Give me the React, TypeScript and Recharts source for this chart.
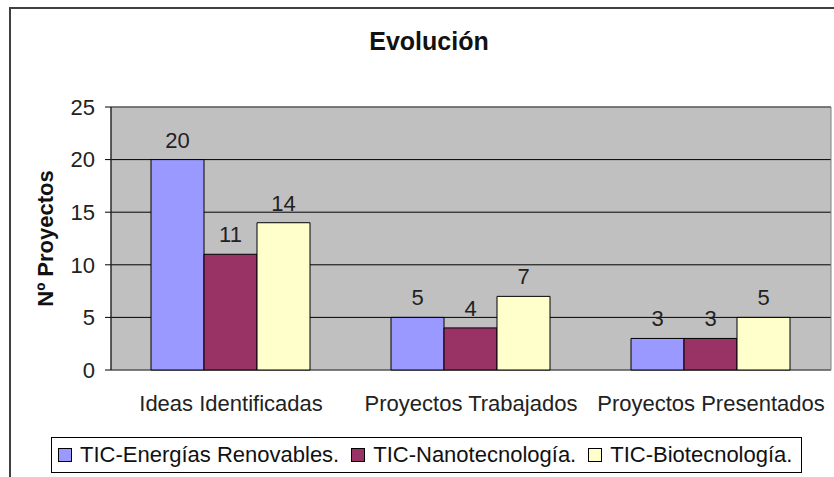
import React from "react";
import {
  BarChart,
  Bar,
  XAxis,
  YAxis,
  CartesianGrid,
  ReferenceArea,
  LabelList,
} from "recharts";

const categories = ["Ideas Identificadas", "Proyectos Trabajados", "Proyectos Presentados"];
const seriesNames = ["TIC-Energías Renovables.", "TIC-Nanotecnología.", "TIC-Biotecnología."];
const energias = [20, 5, 3];
const nano = [11, 4, 3];
const bio = [14, 7, 5];
const yTicks = [0, 5, 10, 15, 20, 25];
const colors = ["#9999ff", "#993366", "#ffffcc"];
const title = "Evolución";
const yLabel = "Nº Proyectos";

const data = categories.map((c, i) => ({ name: c, s0: energias[i], s1: nano[i], s2: bio[i] }));
const edgeTicks = [...categories.map((_, i) => i), categories.length];

const FONT = "'Liberation Sans', Arial, sans-serif";

export default function App() {
  return (
    <div
      style={{
        position: "absolute",
        left: 0,
        top: 0,
        width: 834,
        height: 477,
        overflow: "hidden",
        background: "#fff",
        fontFamily: FONT,
      }}
    >
      <div
        style={{
          position: "absolute",
          left: 9,
          top: 7,
          width: 1000,
          height: 1000,
          border: "2px solid #404040",
        }}
      />
      <div
        style={{
          position: "absolute",
          left: 429,
          top: 29,
          transform: "translateX(-50%)",
          fontSize: 25,
          lineHeight: "25px",
          fontWeight: "bold",
          color: "#111",
          whiteSpace: "nowrap",
        }}
      >
        {title}
      </div>
      <div style={{ position: "absolute", left: 0, top: 0 }}>
        <BarChart
          width={834}
          height={477}
          data={data}
          margin={{ top: 107, right: 3, left: 11, bottom: 67 }}
          barCategoryGap="16.667%"
          barGap={0}
          style={{ fontFamily: FONT }}
        >
          <CartesianGrid vertical={false} stroke="#000" strokeWidth={1} fill="#c0c0c0" fillOpacity={1} />
          <ReferenceArea y1={0} y2={25} fill="none" stroke="#808080" strokeWidth={1} ifOverflow="visible" />
          <XAxis
            xAxisId="edge"
            type="number"
            domain={[0, categories.length]}
            ticks={edgeTicks}
            allowDataOverflow
            height={0}
            tick={false}
            tickSize={7}
            axisLine={{ stroke: "#000", strokeWidth: 1 }}
            tickLine={{ stroke: "#000", strokeWidth: 1 }}
          />
          <XAxis
            xAxisId="cat"
            dataKey="name"
            height={40}
            axisLine={false}
            tickLine={false}
            tickSize={0}
            tickMargin={25}
            interval={0}
            tick={{ fontSize: 22, fill: "#222", fontFamily: FONT }}
          />
          <YAxis
            width={100}
            domain={[0, 25]}
            ticks={yTicks}
            interval={0}
            tickSize={6}
            tickMargin={10}
            axisLine={{ stroke: "#000", strokeWidth: 1 }}
            tickLine={{ stroke: "#000", strokeWidth: 1 }}
            tick={{ fontSize: 22, fill: "#222", fontFamily: FONT }}
            label={{
              value: yLabel,
              angle: -90,
              position: "insideLeft",
              offset: 34,
              style: { textAnchor: "middle", fontSize: 22, fontWeight: "bold", fill: "#111", fontFamily: FONT },
            }}
          />
          {["s0", "s1", "s2"].map((k, i) => (
            <Bar
              key={k}
              xAxisId="cat"
              dataKey={k}
              name={seriesNames[i]}
              fill={colors[i]}
              stroke="#000"
              strokeWidth={1}
              isAnimationActive={false}
            >
              <LabelList dataKey={k} position="top" offset={12} style={{ fontSize: 22, fill: "#222", fontFamily: FONT }} />
            </Bar>
          ))}
        </BarChart>
      </div>
      <div
        style={{
          position: "absolute",
          left: 51,
          top: 437,
          width: 751,
          height: 36,
          boxSizing: "border-box",
          border: "1px solid #000",
          display: "flex",
          alignItems: "center",
          paddingLeft: 6,
          fontSize: 22,
          color: "#111",
          whiteSpace: "nowrap",
        }}
      >
        {seriesNames.map((n, i) => (
          <div key={n} style={{ display: "flex", alignItems: "center", marginRight: 12 }}>
            <span
              style={{
                display: "inline-block",
                width: 14,
                height: 14,
                boxSizing: "border-box",
                background: colors[i],
                border: "1.5px solid #000",
                marginRight: 8,
              }}
            />
            <span>{n}</span>
          </div>
        ))}
      </div>
    </div>
  );
}
